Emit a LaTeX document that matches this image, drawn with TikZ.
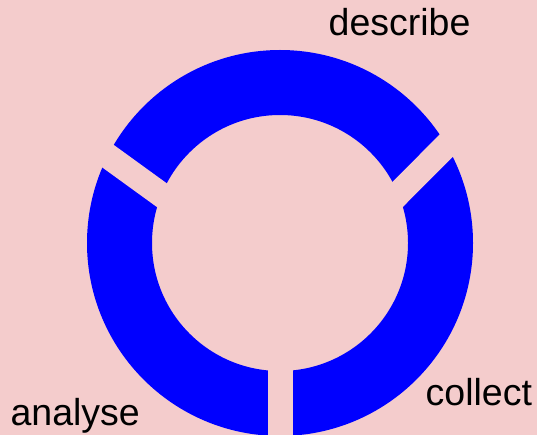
\documentclass[tikz,border=0pt]{standalone}
\usepackage{fontspec}
\setmainfont{Liberation Sans}
\definecolor{bgpink}{HTML}{F4CCCC}
\definecolor{ringblue}{HTML}{0000FF}

\begin{document}
\begin{tikzpicture}[x=1pt,y=-1pt]
  \tikzstyle{stage}=[inner sep=0pt,anchor=base west,font=\fontsize{37.5}{45}\selectfont]
  \tikzstyle{gap}=[draw=bgpink,line width=25pt]
  \useasboundingbox (0,0) rectangle (537,435);
  \fill[bgpink] (0,0) rectangle (537,435);
  \clip (0,0) rectangle (537,435);
  % ring
  \coordinate (c) at (280,243);
  \fill[ringblue,even odd rule] (c) circle (193pt) (c) circle (128pt);
  % gaps between the three parts
  \coordinate (ulin) at (186.3,212.9);
  \coordinate (ulout) at (75.6,132.7);
  \coordinate (urin) at (370.3,221.9);
  \coordinate (urout) at (474.7,117);
  \coordinate (btin) at (280.8,330);
  \coordinate (btout) at (280.8,445);
  \draw[gap] (ulin) -- (ulout);
  \draw[gap] (urin) -- (urout);
  \draw[gap] (btin) -- (btout);
  % labels
  \node[stage] (describe) at (328.5,36) {describe};
  \node[stage] (collect) at (425.5,405) {collect};
  \node[stage] (analyse) at (10.4,425) {analyse};
\end{tikzpicture}
\end{document}
